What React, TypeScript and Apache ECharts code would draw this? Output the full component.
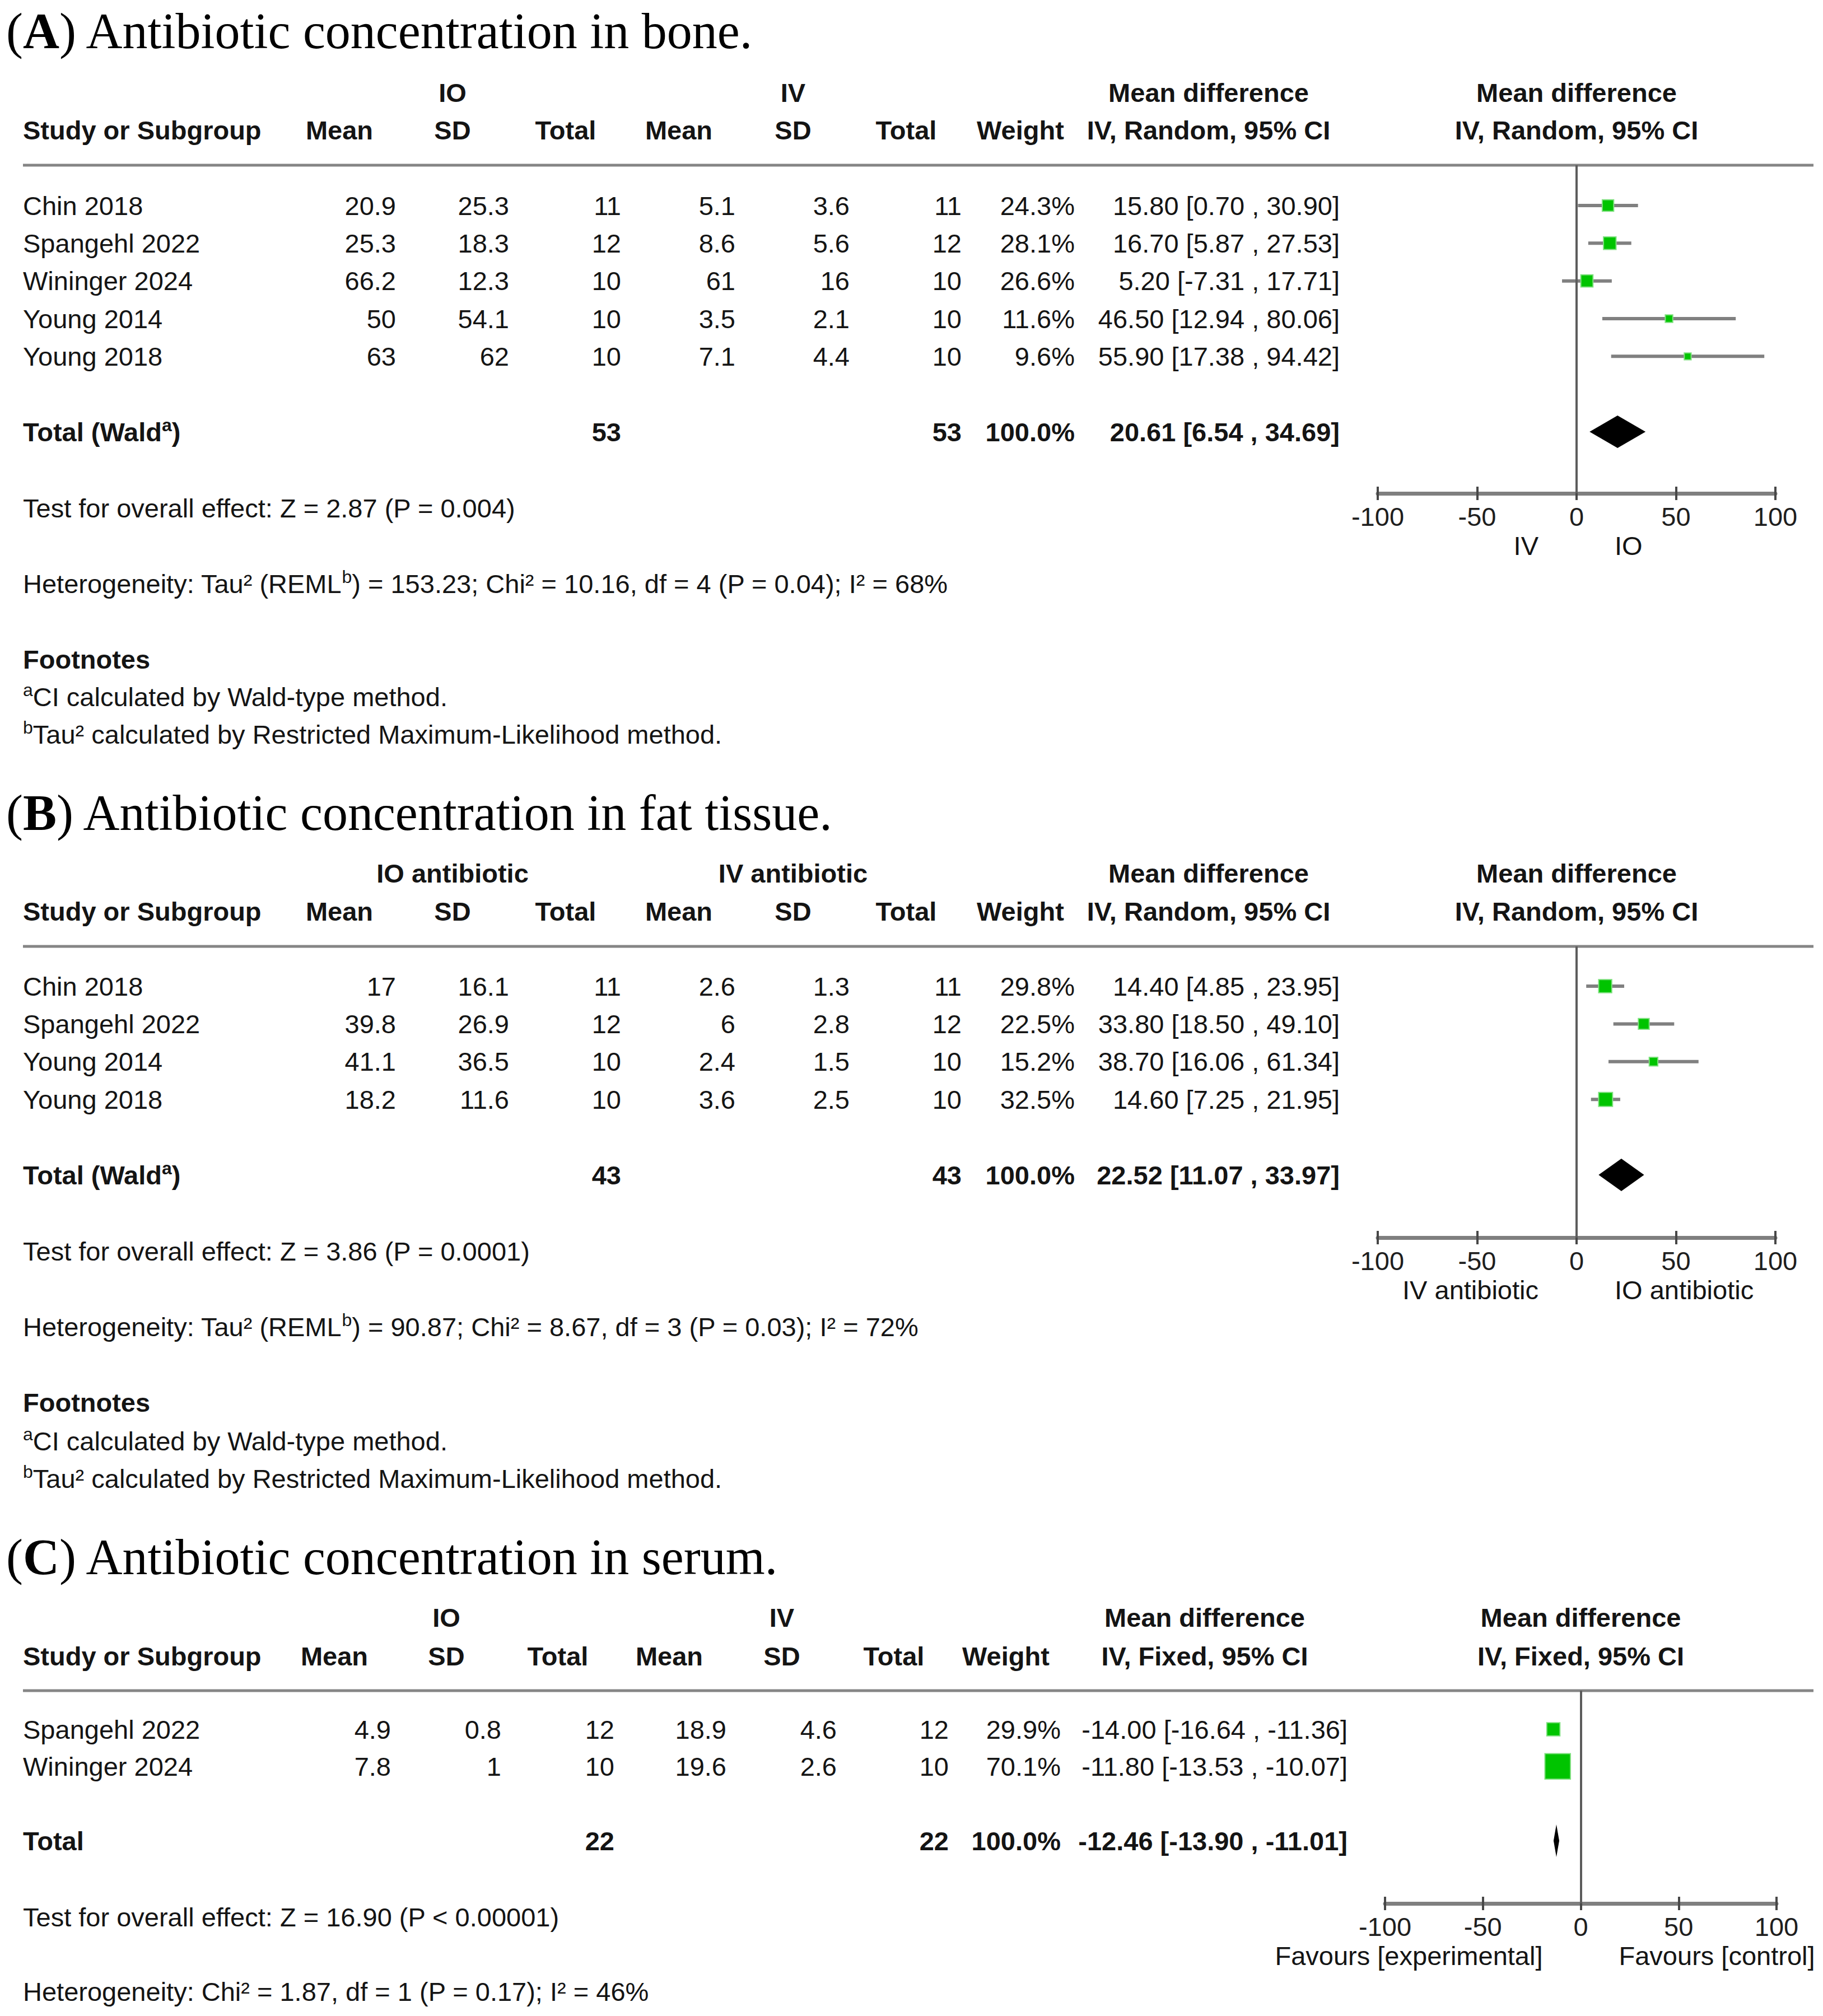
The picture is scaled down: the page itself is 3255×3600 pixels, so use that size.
import React, { useEffect, useRef } from 'react';
import * as echarts from 'echarts';

// ================= DATA =================
// Panel A – bone
const titleA = 'Antibiotic concentration in bone.';
const groupsA = ['IO', 'IV'];
const methodA = 'IV, Random, 95% CI';
const sidesA = ['IV', 'IO'];
const studiesA = ['Chin 2018', 'Spangehl 2022', 'Wininger 2024', 'Young 2014', 'Young 2018'];
const ioMeanA = [20.9, 25.3, 66.2, 50, 63];
const ioSdA = [25.3, 18.3, 12.3, 54.1, 62];
const ioTotalA = [11, 12, 10, 10, 10];
const ivMeanA = [5.1, 8.6, 61, 3.5, 7.1];
const ivSdA = [3.6, 5.6, 16, 2.1, 4.4];
const ivTotalA = [11, 12, 10, 10, 10];
const weightA = [24.3, 28.1, 26.6, 11.6, 9.6];
const mdA = [15.8, 16.7, 5.2, 46.5, 55.9];
const lowA = [0.7, 5.87, -7.31, 12.94, 17.38];
const highA = [30.9, 27.53, 17.71, 80.06, 94.42];
const pooledA = [20.61, 6.54, 34.69];
const pooledNA = [53, 53];
const testA = 'Test for overall effect: Z = 2.87 (P = 0.004)';
const hetA = ['Heterogeneity: Tau² (REML', 'b', ') = 153.23; Chi² = 10.16, df = 4 (P = 0.04); I² = 68%'];

// Panel B – fat tissue
const titleB = 'Antibiotic concentration in fat tissue.';
const groupsB = ['IO antibiotic', 'IV antibiotic'];
const methodB = 'IV, Random, 95% CI';
const sidesB = ['IV antibiotic', 'IO antibiotic'];
const studiesB = ['Chin 2018', 'Spangehl 2022', 'Young 2014', 'Young 2018'];
const ioMeanB = [17, 39.8, 41.1, 18.2];
const ioSdB = [16.1, 26.9, 36.5, 11.6];
const ioTotalB = [11, 12, 10, 10];
const ivMeanB = [2.6, 6, 2.4, 3.6];
const ivSdB = [1.3, 2.8, 1.5, 2.5];
const ivTotalB = [11, 12, 10, 10];
const weightB = [29.8, 22.5, 15.2, 32.5];
const mdB = [14.4, 33.8, 38.7, 14.6];
const lowB = [4.85, 18.5, 16.06, 7.25];
const highB = [23.95, 49.1, 61.34, 21.95];
const pooledB = [22.52, 11.07, 33.97];
const pooledNB = [43, 43];
const testB = 'Test for overall effect: Z = 3.86 (P = 0.0001)';
const hetB = ['Heterogeneity: Tau² (REML', 'b', ') = 90.87; Chi² = 8.67, df = 3 (P = 0.03); I² = 72%'];

// Panel C – serum
const titleC = 'Antibiotic concentration in serum.';
const groupsC = ['IO', 'IV'];
const methodC = 'IV, Fixed, 95% CI';
const sidesC = ['Favours [experimental]', 'Favours [control]'];
const studiesC = ['Spangehl 2022', 'Wininger 2024'];
const ioMeanC = [4.9, 7.8];
const ioSdC = [0.8, 1];
const ioTotalC = [12, 10];
const ivMeanC = [18.9, 19.6];
const ivSdC = [4.6, 2.6];
const ivTotalC = [12, 10];
const weightC = [29.9, 70.1];
const mdC = [-14, -11.8];
const lowC = [-16.64, -13.53];
const highC = [-11.36, -10.07];
const pooledC = [-12.46, -13.9, -11.01];
const pooledNC = [22, 22];
const testC = 'Test for overall effect: Z = 16.90 (P < 0.00001)';
const hetC = ['Heterogeneity: Chi² = 1.87, df = 1 (P = 0.17); I² = 46%'];

const subHeaders = ['Mean', 'SD', 'Total', 'Mean', 'SD', 'Total', 'Weight'];
const footnotes = [
  ['a', 'CI calculated by Wald-type method.'],
  ['b', 'Tau² calculated by Restricted Maximum-Likelihood method.'],
];
const xTicks = [-100, -50, 0, 50, 100];

// ================= STYLE / LAYOUT =================
const FONT = '"Liberation Sans", Arial, Helvetica, sans-serif';
const SERIF = '"Liberation Serif", "Times New Roman", serif';
const FS = 47;
const INK = '#141414';

const colsAB = [707, 909, 1109, 1313, 1517, 1717, 1919, 2392];
const headsAB = [606, 808, 1010, 1212, 1416, 1618, 1822, 2158];
const colsC = [698, 895, 1097, 1297, 1494, 1694, 1894, 2406];
const headsC = [597, 797, 996, 1195, 1396, 1596, 1796, 2151];

const layoutA = { titleY: 55, h1Y: 165, h2Y: 232, sepY: 295, row0Y: 367, totalY: 771, axisY: 881, testY: 907, hetY: 1042, footY: 1177, fn1Y: 1244, fn2Y: 1311, plotL: 2460, plotR: 3170, cols: colsAB, heads: headsAB };
const layoutB = { titleY: 1451, h1Y: 1559, h2Y: 1627, sepY: 1690, row0Y: 1761, totalY: 2098, axisY: 2210, testY: 2234, hetY: 2369, footY: 2504, fn1Y: 2573, fn2Y: 2640, plotL: 2460, plotR: 3170, cols: colsAB, heads: headsAB };
const layoutC = { titleY: 2780, h1Y: 2888, h2Y: 2957, sepY: 3019, row0Y: 3088, totalY: 3287, axisY: 3399, testY: 3423, hetY: 3556, footY: 0, fn1Y: 0, fn2Y: 0, plotL: 2473, plotR: 3172, cols: colsC, heads: headsC };

const panels = [
  { letter: 'A', title: titleA, groups: groupsA, method: methodA, sides: sidesA, studies: studiesA, ioMean: ioMeanA, ioSd: ioSdA, ioTotal: ioTotalA, ivMean: ivMeanA, ivSd: ivSdA, ivTotal: ivTotalA, weight: weightA, md: mdA, low: lowA, high: highA, pooled: pooledA, pooledN: pooledNA, test: testA, het: hetA, totalSup: true, foot: true, L: layoutA },
  { letter: 'B', title: titleB, groups: groupsB, method: methodB, sides: sidesB, studies: studiesB, ioMean: ioMeanB, ioSd: ioSdB, ioTotal: ioTotalB, ivMean: ivMeanB, ivSd: ivSdB, ivTotal: ivTotalB, weight: weightB, md: mdB, low: lowB, high: highB, pooled: pooledB, pooledN: pooledNB, test: testB, het: hetB, totalSup: true, foot: true, L: layoutB },
  { letter: 'C', title: titleC, groups: groupsC, method: methodC, sides: sidesC, studies: studiesC, ioMean: ioMeanC, ioSd: ioSdC, ioTotal: ioTotalC, ivMean: ivMeanC, ivSd: ivSdC, ivTotal: ivTotalC, weight: weightC, md: mdC, low: lowC, high: highC, pooled: pooledC, pooledN: pooledNC, test: testC, het: hetC, totalSup: false, foot: false, L: layoutC },
];

const RICH: any = {
  n: { fontSize: FS, fontFamily: FONT, fill: INK, lineHeight: 56, verticalAlign: 'middle' },
  b: { fontSize: FS, fontFamily: FONT, fontWeight: 'bold', fill: INK, lineHeight: 56, verticalAlign: 'middle' },
  s: { fontSize: 32, fontFamily: FONT, fill: INK, lineHeight: 32, verticalAlign: 'top' },
  sb: { fontSize: 32, fontFamily: FONT, fontWeight: 'bold', fill: INK, lineHeight: 32, verticalAlign: 'top' },
  tn: { fontSize: 90, fontFamily: SERIF, fill: '#000', lineHeight: 100, verticalAlign: 'middle' },
  tb: { fontSize: 90, fontFamily: SERIF, fontWeight: 'bold', fill: '#000', lineHeight: 100, verticalAlign: 'middle' },
};

function plain(x: number, y: number, text: string, align = 'left', bold = false) {
  return {
    type: 'text', x, y, silent: true,
    style: { text, fill: INK, fontSize: FS, fontFamily: FONT, fontWeight: bold ? 'bold' : 'normal', align, verticalAlign: 'middle' },
  };
}
function richText(x: number, y: number, str: string, align = 'left') {
  return {
    type: 'text', x, y, silent: true,
    style: { text: str, rich: RICH, fill: INK, fontSize: FS, fontFamily: FONT, align, verticalAlign: 'middle' },
  };
}
const fmtCI = (m: number, l: number, h: number) => `${m.toFixed(2)} [${l.toFixed(2)} , ${h.toFixed(2)}]`;

function buildOption() {
  const grid: any[] = [];
  const xAxis: any[] = [];
  const yAxis: any[] = [];
  const series: any[] = [];
  const graphic: any[] = [];

  panels.forEach((P, k) => {
    const L = P.L;
    const n = P.studies.length;
    const step = (L.totalY - L.row0Y) / (n + 1);
    const rowY = (i: number) => L.row0Y + i * step;
    const zeroX = (L.plotL + L.plotR) / 2;
    const plotH = L.axisY - L.sepY;

    // ---- titles & table text ----
    graphic.push(richText(11, L.titleY, `{tn|(}{tb|${P.letter}}{tn|) ${P.title}}`));
    graphic.push(plain(L.heads[1], L.h1Y, P.groups[0], 'center', true));
    graphic.push(plain(L.heads[4], L.h1Y, P.groups[1], 'center', true));
    graphic.push(plain(L.heads[7], L.h1Y, 'Mean difference', 'center', true));
    graphic.push(plain(zeroX, L.h1Y, 'Mean difference', 'center', true));
    graphic.push(plain(41, L.h2Y, 'Study or Subgroup', 'left', true));
    subHeaders.forEach((h, j) => graphic.push(plain(L.heads[j], L.h2Y, h, 'center', true)));
    graphic.push(plain(L.heads[7], L.h2Y, P.method, 'center', true));
    graphic.push(plain(zeroX, L.h2Y, P.method, 'center', true));
    graphic.push({ type: 'rect', silent: true, shape: { x: 41, y: L.sepY - 2.5, width: 3238 - 41, height: 5 }, style: { fill: '#858585' } });

    P.studies.forEach((s, i) => {
      const y = rowY(i);
      graphic.push(plain(41, y, s));
      const vals = [
        String(P.ioMean[i]), String(P.ioSd[i]), String(P.ioTotal[i]),
        String(P.ivMean[i]), String(P.ivSd[i]), String(P.ivTotal[i]),
        P.weight[i].toFixed(1) + '%', fmtCI(P.md[i], P.low[i], P.high[i]),
      ];
      vals.forEach((v, j) => graphic.push(plain(L.cols[j], y, v, 'right')));
    });

    const ty = L.totalY;
    if (P.totalSup) graphic.push(richText(41, ty, '{b|Total (Wald}{sb|a}{b|)}'));
    else graphic.push(plain(41, ty, 'Total', 'left', true));
    graphic.push(plain(L.cols[2], ty, String(P.pooledN[0]), 'right', true));
    graphic.push(plain(L.cols[5], ty, String(P.pooledN[1]), 'right', true));
    graphic.push(plain(L.cols[6], ty, '100.0%', 'right', true));
    graphic.push(plain(L.cols[7], ty, fmtCI(P.pooled[0], P.pooled[1], P.pooled[2]), 'right', true));

    graphic.push(plain(41, L.testY, P.test));
    if (P.het.length === 3) graphic.push(richText(41, L.hetY, `{n|${P.het[0]}}{s|${P.het[1]}}{n|${P.het[2]}}`));
    else graphic.push(plain(41, L.hetY, P.het[0]));

    if (P.foot) {
      graphic.push(plain(41, L.footY, 'Footnotes', 'left', true));
      graphic.push(richText(41, L.fn1Y, `{s|${footnotes[0][0]}}{n|${footnotes[0][1]}}`));
      graphic.push(richText(41, L.fn2Y, `{s|${footnotes[1][0]}}{n|${footnotes[1][1]}}`));
    }

    // side labels under the axis
    graphic.push(plain(zeroX - 68, L.axisY + 93, P.sides[0], 'right'));
    graphic.push(plain(zeroX + 68, L.axisY + 93, P.sides[1], 'left'));

    // ---- forest plot ----
    grid.push({ left: L.plotL, top: L.sepY, width: L.plotR - L.plotL, height: plotH });
    const xBase = {
      gridIndex: k, type: 'value', min: xTicks[0], max: xTicks[xTicks.length - 1], interval: 50,
      splitLine: { show: false },
    };
    // main axis (line, labels, downward half of the ticks)
    xAxis.push({
      ...xBase,
      position: 'bottom',
      axisLine: { show: true, onZero: false, lineStyle: { color: '#7f7f7f', width: 7 } },
      axisTick: { show: true, length: 12, lineStyle: { color: '#474747', width: 4 } },
      axisLabel: { fontSize: FS, color: '#1e1e1e', fontFamily: FONT, margin: 18 },
    });
    // helper axis moved down onto the same line: upward half of the ticks
    xAxis.push({
      ...xBase,
      position: 'top',
      offset: -plotH,
      axisLine: { show: false },
      axisTick: { show: true, inside: false, length: 12, lineStyle: { color: '#474747', width: 4 } },
      axisLabel: { show: false },
    });
    yAxis.push({
      gridIndex: k, type: 'value', inverse: true, show: false,
      min: (L.sepY - L.row0Y) / step, max: (L.axisY - L.row0Y) / step,
      splitLine: { show: false },
    });
    const xi = 2 * k;

    series.push({
      type: 'custom', xAxisIndex: xi, yAxisIndex: k, z: 2, silent: true,
      data: P.studies.map((_, i) => [P.low[i], P.high[i], i]),
      encode: { x: [0, 1], y: 2 },
      renderItem: (params: any, api: any) => {
        const a = api.coord([api.value(0), api.value(2)]);
        const b = api.coord([api.value(1), api.value(2)]);
        return { type: 'line', shape: { x1: a[0], y1: a[1], x2: b[0], y2: b[1] }, style: { stroke: '#808080', lineWidth: 6 } };
      },
    });
    series.push({
      type: 'scatter', xAxisIndex: xi, yAxisIndex: k, z: 4, silent: true,
      symbol: 'rect',
      symbolSize: (v: number[]) => 7 + 0.55 * v[2],
      itemStyle: { color: '#00c400', borderColor: '#7fe07f', borderWidth: 2, opacity: 1 },
      data: P.studies.map((_, i) => [P.md[i], i, P.weight[i]]),
      markLine: {
        silent: true, symbol: ['none', 'none'], label: { show: false },
        lineStyle: { color: '#5c5c5c', width: 4, type: 'solid' },
        data: [{ xAxis: 0 }],
      },
    });
    series.push({
      type: 'custom', xAxisIndex: xi, yAxisIndex: k, z: 4, silent: true,
      data: [[P.pooled[0], P.pooled[1], P.pooled[2], n + 1]],
      encode: { x: [0, 1, 2], y: 3 },
      renderItem: (params: any, api: any) => {
        const c = api.coord([api.value(0), api.value(3)]);
        const l = api.coord([api.value(1), api.value(3)]);
        const r = api.coord([api.value(2), api.value(3)]);
        const h = 29;
        return {
          type: 'polygon',
          shape: { points: [[l[0], c[1]], [c[0], c[1] - h], [r[0], c[1]], [c[0], c[1] + h]] },
          style: { fill: '#000' },
        };
      },
    });
  });

  return { animation: false, backgroundColor: '#fff', grid, xAxis, yAxis, series, graphic };
}

export default function App() {
  const ref = useRef<HTMLDivElement>(null);
  useEffect(() => {
    if (!ref.current) return;
    const chart = echarts.init(ref.current, null, { renderer: 'svg', width: 3255, height: 3600 });
    chart.setOption(buildOption() as any);
    return () => chart.dispose();
  }, []);
  return <div ref={ref} style={{ position: 'absolute', left: 0, top: 0, width: 3255, height: 3600, background: '#fff' }} />;
}
